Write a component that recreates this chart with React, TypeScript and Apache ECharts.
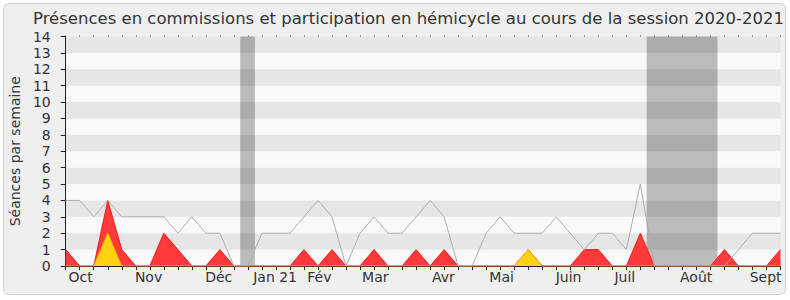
import React, { useEffect, useRef } from "react";
import * as echarts from "echarts";

// Weekly values, week index 0..51
const grayValues = [4, 4, 3, 4, 3, 3, 3, 3, 2, 3, 2, 2, 0, 0, 2, 2, 2, 3, 4, 3, 0, 2, 3, 2, 2, 3, 4, 3, 0, 0, 2, 3, 2, 2, 2, 3, 2, 1, 2, 2, 1, 5, 0, 0, 0, 0, 0, 0, 1, 2, 2, 2];
const redValues = [1, 0, 0, 4, 1, 0, 0, 2, 1, 0, 0, 1, 0, 0, 0, 0, 0, 1, 0, 1, 0, 0, 1, 0, 0, 1, 0, 1, 0, 0, 0, 0, 0, 1, 0, 0, 0, 1, 1, 0, 0, 2, 0, 0, 0, 0, 0, 1, 0, 0, 0, 1];
const yellowValues = [0, 0, 0, 2, 0, 0, 0, 0, 0, 0, 0, 0, 0, 0, 0, 0, 0, 0, 0, 0, 0, 0, 0, 0, 0, 0, 0, 0, 0, 0, 0, 0, 0, 1, 0, 0, 0, 0, 0, 0, 0, 0, 0, 0, 0, 0, 0, 0, 0, 0, 0, 0];
const monthLabels = ["Oct", "Nov", "Déc", "Jan 21", "Fév", "Mar", "Avr", "Mai", "Juin", "Juil", "Août", "Sept"];
const monthPositions = [1.06, 5.91, 10.92, 14.94, 18.1, 22.09, 26.95, 31.1, 35.88, 39.89, 44.98, 49.94];
const vacationRanges = [[12.45, 13.5], [41.45, 46.5]];
const yMax = 14;

const TITLE = "Présences en commissions et participation en hémicycle au cours de la session 2020-2021";
const FONT = "'DejaVu Sans', Verdana, sans-serif";

export default function App() {
  const ref = useRef<HTMLDivElement>(null);
  useEffect(() => {
    if (!ref.current) return;
    const chart = echarts.init(ref.current, null, { renderer: "svg" });
    const weeks = grayValues.map((_, i) => i);
    const pairs = (vals: number[]) => vals.map((v, i) => [weeks[i], v]);
    const labelFor = (v: number) => {
      const i = monthPositions.findIndex((p) => Math.abs(p - v) < 1e-6);
      return i >= 0 ? monthLabels[i] : "";
    };
    chart.setOption({
      animation: false,
      backgroundColor: "transparent",
      textStyle: { fontFamily: FONT },
      title: {
        text: TITLE,
        left: 33,
        top: 10,
        padding: 0,
        textStyle: { fontFamily: FONT, fontSize: 16.5, fontWeight: "normal", color: "#333" },
      },
      grid: { left: 62, right: 9.5, top: 36.5, bottom: 34, containLabel: false },
      xAxis: [
        {
          type: "value",
          min: 0,
          max: weeks.length - 1,
          axisLine: { show: true, lineStyle: { color: "#222", width: 1 } },
          axisTick: { show: true, customValues: weeks, length: 4, lineStyle: { color: "#222" } },
          axisLabel: {
            show: true,
            customValues: monthPositions,
            formatter: labelFor,
            fontFamily: FONT,
            fontSize: 14,
            color: "#333",
            margin: 4,
          },
          splitLine: { show: false },
        },
        {
          type: "value",
          position: "top",
          min: 0,
          max: weeks.length - 1,
          axisLine: { show: false },
          axisTick: { show: true, customValues: weeks, length: 1, lineStyle: { color: "#444" } },
          axisLabel: { show: false },
          splitLine: { show: false },
        },
      ],
      yAxis: {
        type: "value",
        min: 0,
        max: yMax,
        interval: 1,
        name: "Séances par semaine",
        nameLocation: "middle",
        nameGap: 41,
        nameTextStyle: { fontFamily: FONT, fontSize: 14, color: "#333" },
        axisLine: { show: true, lineStyle: { color: "#222", width: 1 } },
        axisTick: { show: true, length: 5, lineStyle: { color: "#222" } },
        axisLabel: { fontFamily: FONT, fontSize: 14, color: "#333", margin: 15 },
        splitLine: { show: false },
        splitArea: { show: true, areaStyle: { color: ["#fafafa", "#e6e6e6"] } },
      },
      series: [
        {
          type: "line",
          data: pairs(redValues),
          symbol: "none",
          z: 2,
          lineStyle: { color: "#ff1a1a", width: 1 },
          areaStyle: { color: "#ff3a3a", opacity: 1 },
        },
        {
          type: "line",
          data: pairs(yellowValues),
          symbol: "none",
          z: 3,
          lineStyle: { color: "#f5b400", width: 1 },
          areaStyle: { color: "#ffd314", opacity: 1 },
        },
        {
          type: "line",
          data: pairs(grayValues),
          symbol: "none",
          z: 4,
          lineStyle: { color: "#adadad", width: 1 },
        },
        {
          type: "line",
          data: pairs(grayValues),
          symbol: "none",
          z: 5,
          lineStyle: { width: 0, opacity: 0 },
          markArea: {
            silent: true,
            itemStyle: { color: "rgba(0,0,0,0.25)" },
            data: vacationRanges.map(([a, b]) => [{ xAxis: a }, { xAxis: b }]),
          },
        },
      ],
    });
    return () => chart.dispose();
  }, []);
  return (
    <div style={{ position: "fixed", left: 0, top: 0, width: 790, height: 300, background: "#ffffff" }}>
      <div
        style={{
          position: "absolute",
          left: 3,
          top: 3,
          width: 783,
          height: 292,
          boxSizing: "border-box",
          border: "1px solid #d2d2d2",
          borderRadius: 6,
          background: "#efefef",
        }}
      />
      <div ref={ref} style={{ position: "absolute", left: 0, top: 0, width: 790, height: 300 }} />
    </div>
  );
}
